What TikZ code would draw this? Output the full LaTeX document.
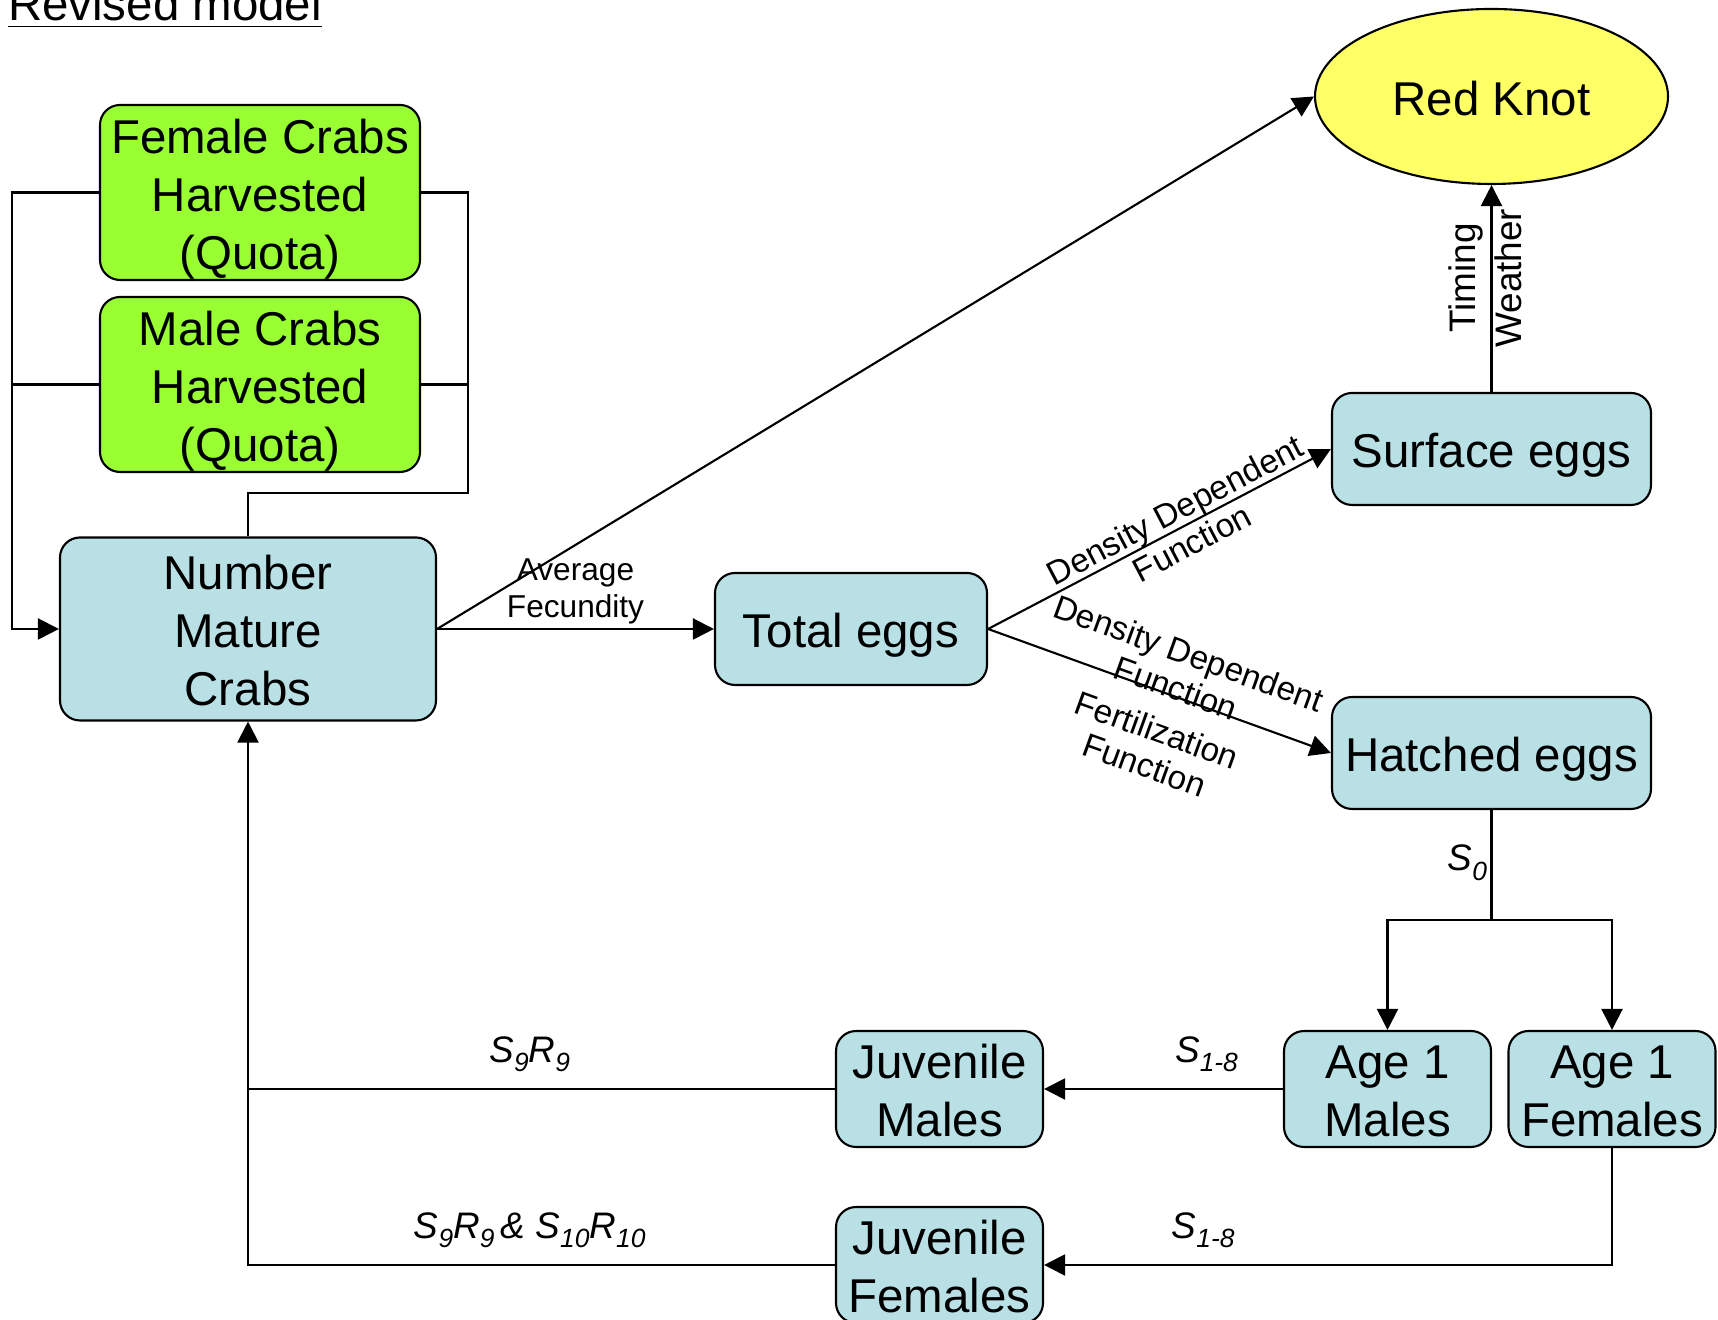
\documentclass[tikz,border=0pt]{standalone}
\usepackage{fontspec}
\setmainfont{Liberation Sans}
\usetikzlibrary{arrows.meta,shapes.geometric}

\definecolor{boxblue}{RGB}{185,224,228}
\definecolor{harvgreen}{RGB}{153,255,51}
\definecolor{knotyellow}{RGB}{255,255,102}
\newcommand\sub[1]{\raisebox{-0.25em}{\fontsize{7.5}{8}\selectfont #1}}

\begin{document}
\begin{tikzpicture}[line width=0.6pt,
  boxtext/.style={font=\fontsize{13.5}{16.5}\selectfont,text height=13.6pt,text depth=2.9pt},
  twolines/.style={text height=30.1pt},
  threelines/.style={text height=46.6pt},
  box/.style={draw,rounded corners=2mm,fill=boxblue,align=center,inner sep=0pt,boxtext},
  quota/.style={box,threelines,fill=harvgreen,minimum width=3.2cm,minimum height=1.75cm},
  small/.style={box,twolines,minimum width=2.07cm,minimum height=1.12cm},
  arr/.style={-{Triangle[length=2.1mm,width=2.1mm]}},
  lbl/.style={font=\fontsize{9.5}{10.5}\selectfont,align=center},
  rate/.style={font=\fontsize{10.5}{12}\selectfont\itshape,inner sep=4.5pt}]
\useasboundingbox (0,0) rectangle (17.18,13.2);

\node[anchor=base west,inner sep=0pt,font=\fontsize{13.5}{16.5}\selectfont] (title) at (0.07,12.99) {\underline{Revised model}};

\node[quota] (female) at (2.60,11.275) {Female Crabs\\Harvested\\(Quota)};
\node[quota] (male) at (2.60,9.355) {Male Crabs\\Harvested\\(Quota)};
\node[box,threelines,minimum width=3.76cm,minimum height=1.83cm] (num) at (2.48,6.91) {Number\\Mature\\Crabs};
\node[box,minimum width=2.72cm,minimum height=1.12cm] (total) at (8.51,6.91) {Total eggs};
\node[box,minimum width=3.19cm,minimum height=1.12cm] (surface) at (14.915,8.71) {Surface eggs};
\node[box,minimum width=3.19cm,minimum height=1.12cm] (hatched) at (14.915,5.67) {Hatched eggs};
\node[ellipse,draw,fill=knotyellow,minimum width=3.53cm,minimum height=1.75cm,inner sep=0pt,boxtext] (knot) at (14.915,12.235) {Red Knot};
\node[small] (age1m) at (13.875,2.31) {Age 1\\Males};
\node[small] (age1f) at (16.12,2.31) {Age 1\\Females};
\node[small] (juvm) at (9.395,2.31) {Juvenile\\Males};
\node[small] (juvf) at (9.395,0.55) {Juvenile\\Females};

\coordinate (lft) at (0.12,0);
\coordinate (rgt) at (4.68,8.27);
\coordinate (split) at (14.915,4.00);

\draw[arr] (female.west) -- (female.west -| lft) |- (num.west);
\draw (male.west) -- (male.west -| lft);
\draw (female.east) -| (rgt) -| (num.north);
\draw (male.east) -- (male.east -| rgt);

\draw[arr] (num.east) -- node[lbl,above,inner sep=1pt,font=\fontsize{9}{10.5}\selectfont] {Average\\Fecundity} (total.west);
\draw[arr] (num.east) -- (knot.west);
\draw[arr] (total.east) -- node[lbl,sloped,pos=0.57] {Density Dependent\\Function} (surface.west);
\draw[arr] (total.east) -- node[lbl,sloped,pos=0.54,yshift=2.7mm] {Density Dependent\\Function} node[lbl,sloped,pos=0.53,yshift=-5.6mm] {Fertilization\\Function} (hatched.west);
\draw[arr] (surface.north) -- node[sloped,pos=0.55,above,inner sep=2pt,font=\fontsize{10.5}{12}\selectfont] {Timing} node[sloped,pos=0.55,below,inner sep=0.5pt,font=\fontsize{10.5}{12}\selectfont] {Weather} (knot.south);

\draw (hatched.south) -- node[rate,left,pos=0.48,inner sep=1pt] {S\sub{0}} (split);
\draw[arr] (split) -| (age1m.north);
\draw[arr] (split) -| (age1f.north);

\draw[arr] (age1m.west) -- node[rate,above,pos=0.32] {S\sub{1-8}} (juvm.east);
\draw[arr] (age1f.south) |- node[rate,above,pos=0.86] {S\sub{1-8}} (juvf.east);
\draw (juvm.west) -- node[rate,above,pos=0.52] {S\sub{9}R\sub{9}} (juvm.west -| num.south);
\draw[arr] (juvf.west) -| node[rate,above,pos=0.26] {S\sub{9}R\sub{9}\,\& S\sub{10}R\sub{10}} (num.south);
\end{tikzpicture}
\end{document}
